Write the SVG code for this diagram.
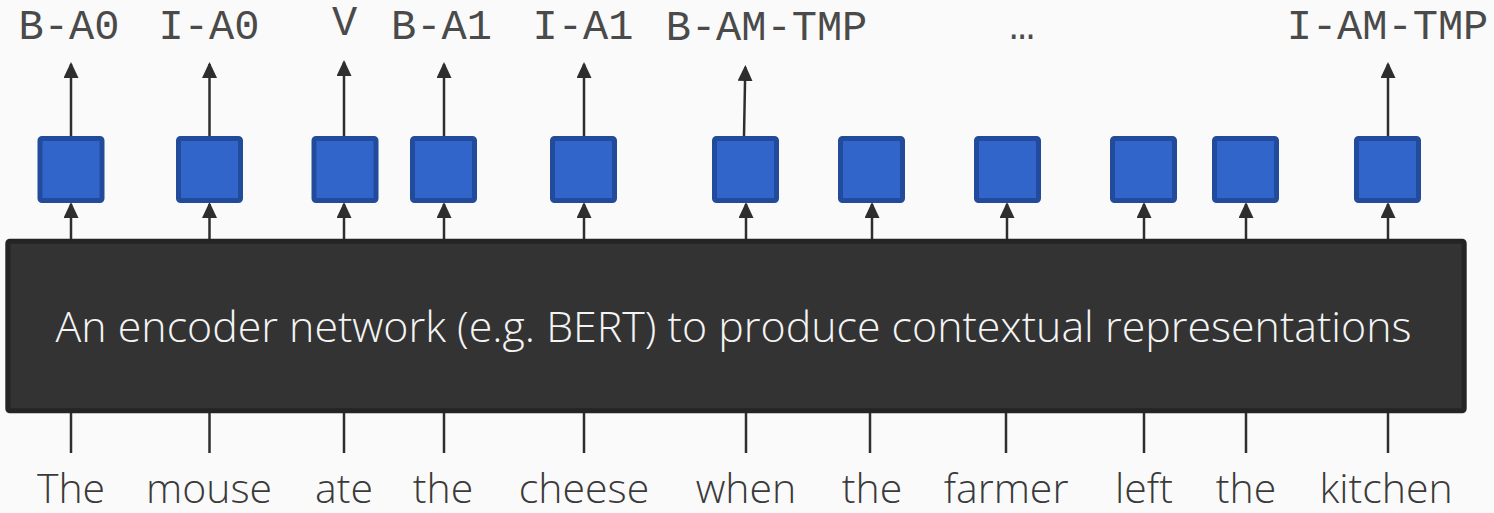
<svg xmlns="http://www.w3.org/2000/svg" width="1494" height="513" viewBox="0 0 1494 513">
  <defs>
    <marker id="ah" viewBox="0 0 16 15" refX="14" refY="7.5" markerWidth="16" markerHeight="15" orient="auto" markerUnits="userSpaceOnUse">
      <path d="M0,0 L16,7.5 L0,15 z" fill="#2e2e2e"/>
    </marker>
    <style>
      .tag { font-family: "Liberation Mono", "Courier New", monospace; font-size: 42px; fill: #4a4a4a; text-anchor: middle; }
      .word { font-family: "Open Sans", "Noto Sans", sans-serif; font-weight: 300; font-size: 41px; fill: #3a3a3a; text-anchor: middle; }
      .cell { fill: #3165c9; stroke: #234b9b; stroke-width: 5; }
      .arr { stroke: #2e2e2e; stroke-width: 2.5; fill: none; marker-end: url(#ah); }
      .stem { stroke: #2e2e2e; stroke-width: 2.5; fill: none; }
      .enc { fill: #333333; stroke: #242424; stroke-width: 5; }
      .enc-label { font-family: "Open Sans", "Noto Sans", sans-serif; font-weight: 300; font-size: 42px; fill: #f4f4f4; text-anchor: middle; }
    </style>
  </defs>

  <rect width="1494" height="513" fill="#fafafa"/>

  <!-- output tags -->
  <g id="tags">
    <text class="tag" x="69" y="39">B-A0</text>
    <text class="tag" x="209" y="39">I-A0</text>
    <text class="tag" x="344.5" y="35">V</text>
    <text class="tag" x="441.5" y="39">B-A1</text>
    <text class="tag" x="583" y="39">I-A1</text>
    <text class="tag" x="766.5" y="40">B-AM-TMP</text>
    <text class="tag" x="1022" y="39">…</text>
    <text class="tag" x="1387.5" y="39">I-AM-TMP</text>
  </g>

  <!-- connectors -->
  <g id="connectors">
    <!-- encoder to token cells -->
    <line class="arr" x1="71" y1="239" x2="71" y2="204"/>
    <line class="arr" x1="209.5" y1="239" x2="209.5" y2="204"/>
    <line class="arr" x1="344" y1="239" x2="344" y2="204"/>
    <line class="arr" x1="444" y1="239" x2="444" y2="204"/>
    <line class="arr" x1="584" y1="239" x2="584" y2="204"/>
    <line class="arr" x1="746" y1="239" x2="746" y2="204"/>
    <line class="arr" x1="872" y1="239" x2="872" y2="204"/>
    <line class="arr" x1="1007" y1="239" x2="1007" y2="204"/>
    <line class="arr" x1="1144" y1="239" x2="1144" y2="204"/>
    <line class="arr" x1="1246" y1="239" x2="1246" y2="204"/>
    <line class="arr" x1="1388" y1="239" x2="1388" y2="204"/>
    <!-- token cells to tags -->
    <line class="arr" x1="71" y1="136" x2="71" y2="64"/>
    <line class="arr" x1="209.5" y1="136" x2="209.5" y2="64"/>
    <line class="arr" x1="344" y1="136" x2="344" y2="62"/>
    <line class="arr" x1="444" y1="136" x2="444" y2="64"/>
    <line class="arr" x1="584" y1="136" x2="584" y2="64"/>
    <line class="arr" x1="744" y1="136" x2="745.3" y2="67"/>
    <line class="arr" x1="1388" y1="136" x2="1388" y2="64"/>
    <!-- words to encoder -->
    <line class="stem" x1="71" y1="413" x2="71" y2="453"/>
    <line class="stem" x1="209.5" y1="413" x2="209.5" y2="453"/>
    <line class="stem" x1="344" y1="413" x2="344" y2="453"/>
    <line class="stem" x1="444" y1="413" x2="444" y2="453"/>
    <line class="stem" x1="584" y1="413" x2="584" y2="453"/>
    <line class="stem" x1="746" y1="413" x2="746" y2="453"/>
    <line class="stem" x1="870" y1="413" x2="870" y2="453"/>
    <line class="stem" x1="1006" y1="413" x2="1006" y2="453"/>
    <line class="stem" x1="1144" y1="413" x2="1144" y2="453"/>
    <line class="stem" x1="1246" y1="413" x2="1246" y2="453"/>
    <line class="stem" x1="1388" y1="413" x2="1388" y2="453"/>
  </g>

  <!-- token cells -->
  <g id="cell-1"><rect class="cell" x="40" y="138.5" width="62" height="62" rx="2"/></g>
  <g id="cell-2"><rect class="cell" x="178.5" y="138.5" width="62" height="62" rx="2"/></g>
  <g id="cell-3"><rect class="cell" x="314" y="138.5" width="62" height="62" rx="2"/></g>
  <g id="cell-4"><rect class="cell" x="412.5" y="138.5" width="62" height="62" rx="2"/></g>
  <g id="cell-5"><rect class="cell" x="552.5" y="138.5" width="62" height="62" rx="2"/></g>
  <g id="cell-6"><rect class="cell" x="714.5" y="138.5" width="62" height="62" rx="2"/></g>
  <g id="cell-7"><rect class="cell" x="840.5" y="138.5" width="62" height="62" rx="2"/></g>
  <g id="cell-8"><rect class="cell" x="976.5" y="138.5" width="62" height="62" rx="2"/></g>
  <g id="cell-9"><rect class="cell" x="1112.5" y="138.5" width="62" height="62" rx="2"/></g>
  <g id="cell-10"><rect class="cell" x="1214.5" y="138.5" width="62" height="62" rx="2"/></g>
  <g id="cell-11"><rect class="cell" x="1356.5" y="138.5" width="62" height="62" rx="2"/></g>

  <!-- encoder block -->
  <g id="encoder">
    <rect class="enc" x="7.8" y="241.2" width="1456.4" height="169.6" rx="2"/>
    <text class="enc-label" x="733.5" y="341.5" textLength="1356" lengthAdjust="spacingAndGlyphs">An encoder network (e.g. BERT) to produce contextual representations</text>
  </g>

  <!-- input words -->
  <g id="words">
    <text class="word" x="71" y="503">The</text>
    <text class="word" x="209" y="503">mouse</text>
    <text class="word" x="344" y="503">ate</text>
    <text class="word" x="443" y="503">the</text>
    <text class="word" x="584" y="503">cheese</text>
    <text class="word" x="746" y="503">when</text>
    <text class="word" x="872" y="503">the</text>
    <text class="word" x="1006" y="503">farmer</text>
    <text class="word" x="1144" y="503">left</text>
    <text class="word" x="1246" y="503">the</text>
    <text class="word" x="1386" y="503">kitchen</text>
  </g>
</svg>
